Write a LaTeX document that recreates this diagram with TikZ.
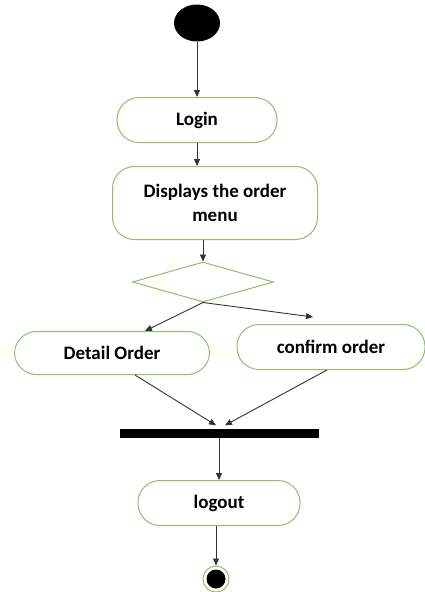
\documentclass[tikz,border=0pt]{standalone}
\usepackage{fontspec}
\setmainfont{Carlito}
\usetikzlibrary{shapes.geometric,arrows.meta}
\definecolor{actgreen}{RGB}{140,192,105}

\begin{document}
\begin{tikzpicture}
  [x=1pt,y=-1pt,
    every node/.style={font=\bfseries\fontsize{19}{24}\selectfont},
    activity/.style={draw=actgreen,line width=1pt,rectangle,rounded corners=22pt,align=center,minimum height=45pt},
    flow/.style={draw=black!80,line width=0.9pt,-{Triangle[length=7pt,width=6pt]}},
  ]
  \useasboundingbox (0,0) rectangle (425,592);

  % activities
  \node[ellipse,fill=black,minimum width=46pt,minimum height=37pt] (start) at (197,23) {};
  \node[activity,minimum width=160pt] (login) at (197,120) {Login};
  \node[activity,minimum width=205pt,minimum height=73pt] (menu) at (215,203) {Displays the order\\menu};
  \node[diamond,draw=actgreen,line width=1pt,minimum width=141pt,minimum height=40pt,inner sep=0pt] (decide) at (203,282) {};
  \node[activity,minimum width=195pt,minimum height=43pt] (detail) at (112,353) {Detail Order};
  \node[activity,minimum width=188pt] (confirm) at (331,347) {confirm order};
  \node[rectangle,fill=black,minimum width=199pt,minimum height=9pt,inner sep=0pt] (bar) at (219,433) {};
  \node[activity,minimum width=162pt] (logout) at (219,503) {logout};
  \node[circle,draw=actgreen,line width=1pt,minimum size=26pt,inner sep=0pt] (end) at (216,579) {};
  \node[circle,fill=black,minimum size=19pt,inner sep=0pt] (endin) at (end) {};

  % flows
  \draw[flow] (start) -- (login);
  \draw[flow] (login.south) -- (login.south |- menu.north);
  \draw[flow] (decide.north |- menu.south) -- (decide.north);
  \draw[flow] (decide.south) -- ([xshift=33pt]detail.north);
  \draw[flow] (decide.south) -- ([shift={(-18pt,7pt)}]confirm.north);
  \draw[flow] ([xshift=23pt]detail.south) -- ([shift={(-3pt,3pt)}]bar.north);
  \draw[flow] ([xshift=-4pt]confirm.south) -- ([shift={(6pt,3pt)}]bar.north);
  \draw[flow] (bar.south) -- (bar.south |- logout.north);
  \draw[flow] (end.north |- logout.south) -- (end.north);
\end{tikzpicture}
\end{document}
